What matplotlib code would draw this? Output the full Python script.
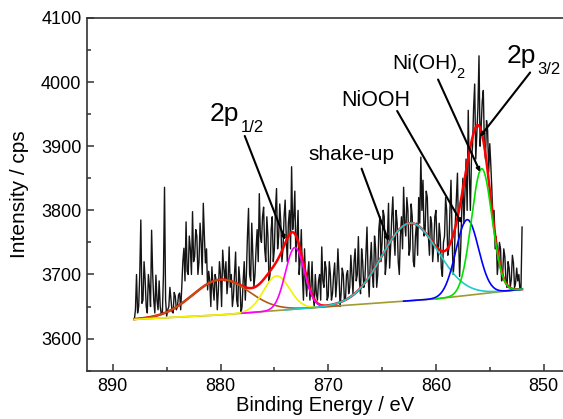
"""Ni 2p XPS spectrum with fitted components"""
import numpy as np
import matplotlib
matplotlib.use('Agg')
import matplotlib.pyplot as plt
from matplotlib.ticker import MultipleLocator

plt.rcParams['font.family'] = ['Liberation Sans', 'DejaVu Sans']

# measured spectrum, 888.0 -> 852.0 eV in 0.1 eV steps (20 points per row)
counts = [
    3630, 3645, 3700, 3640, 3650, 3700, 3785, 3655, 3660, 3720, 3692, 3650, 3640, 3700, 3681, 3650, 3769, 3700, 3660, 3640,
    3699, 3660, 3645, 3690, 3650, 3638, 3640, 3700, 3836, 3660, 3635, 3645, 3650, 3680, 3661, 3642, 3640, 3672, 3666, 3645,
    3650, 3668, 3671, 3645, 3680, 3720, 3741, 3690, 3782, 3705, 3700, 3760, 3740, 3700, 3798, 3720, 3728, 3770, 3760, 3700,
    3720, 3780, 3750, 3700, 3811, 3760, 3718, 3740, 3676, 3705, 3690, 3650, 3712, 3680, 3660, 3700, 3690, 3645, 3676, 3720,
    3700, 3650, 3738, 3710, 3690, 3720, 3670, 3690, 3743, 3680, 3700, 3650, 3666, 3700, 3735, 3660, 3650, 3712, 3690, 3640,
    3650, 3690, 3720, 3660, 3700, 3760, 3803, 3700, 3690, 3780, 3730, 3680, 3700, 3740, 3770, 3720, 3826, 3760, 3750, 3790,
    3805, 3740, 3720, 3790, 3760, 3690, 3700, 3770, 3790, 3720, 3740, 3800, 3834, 3740, 3760, 3810, 3780, 3720, 3740, 3790,
    3816, 3760, 3720, 3780, 3800, 3740, 3868, 3770, 3790, 3830, 3720, 3760, 3800, 3700, 3723, 3770, 3700, 3660, 3740, 3690,
    3666, 3700, 3720, 3660, 3680, 3720, 3666, 3650, 3700, 3670, 3660, 3690, 3700, 3660, 3743, 3690, 3680, 3720, 3710, 3660,
    3666, 3720, 3700, 3660, 3670, 3700, 3718, 3665, 3690, 3740, 3700, 3650, 3671, 3710, 3700, 3660, 3660, 3700, 3706, 3670,
    3680, 3730, 3700, 3670, 3720, 3740, 3690, 3700, 3759, 3690, 3670, 3740, 3720, 3680, 3690, 3730, 3774, 3700, 3665, 3720,
    3750, 3700, 3680, 3760, 3740, 3680, 3700, 3770, 3790, 3720, 3750, 3800, 3790, 3700, 3720, 3760, 3811, 3710, 3745, 3790,
    3821, 3760, 3730, 3800, 3780, 3720, 3700, 3760, 3790, 3740, 3836, 3780, 3760, 3820, 3800, 3730, 3740, 3810, 3790, 3720,
    3712, 3760, 3780, 3730, 3820, 3780, 3883, 3800, 3847, 3760, 3770, 3830, 3820, 3760, 3730, 3790, 3780, 3720, 3745, 3790,
    3800, 3750, 3720, 3780, 3760, 3710, 3697, 3750, 3760, 3820, 3800, 3730, 3740, 3800, 3847, 3760, 3700, 3720, 3780, 3820,
    3858, 3760, 3697, 3740, 3800, 3850, 3780, 3830, 3880, 3800, 3956, 3860, 3800, 3880, 3900, 3960, 3997, 3880, 3920, 3960,
    4041, 3900, 3930, 3970, 3987, 3900, 3880, 3940, 3925, 3860, 3904, 3870, 3830, 3780, 3800, 3740, 3759, 3700, 3720, 3750,
    3740, 3690, 3700, 3740, 3728, 3690, 3680, 3720, 3710, 3680, 3692, 3730, 3718, 3680, 3687, 3710, 3690, 3700, 3676, 3680,
    3774,
]
energy = np.linspace(888.0, 852.0, len(counts))

# background (Shirley-like) knots
bg_energy = [888, 880, 870, 860, 852]
bg_counts = [3630, 3637, 3650, 3662, 3677]

# fitted gaussian components: centre (eV), height above background, sigma
peak_names = ['sat 2p1/2', '2p1/2 a', '2p1/2 b', 'shake-up', 'NiOOH', 'Ni(OH)2']
peak_center = [880.0, 874.8, 873.1, 862.4, 857.1, 855.75]
peak_height = [55, 54, 96, 121, 118, 195]
peak_sigma = [2.6, 1.2, 0.88, 2.6, 1.05, 0.95]
peak_range = [(888, 869), (888, 871), (878, 870.5), (874, 852), (863, 852), (860, 852)]
peak_color = ['#b05a14', '#f2f200', '#ff00ff', '#1ccccc', '#0000ff', '#00e000']

fit_x = np.linspace(888.0, 852.0, 721)
bg = np.interp(fit_x, bg_energy[::-1], bg_counts[::-1])
comps = [h * np.exp(-(fit_x - c)**2 / (2 * s**2))
         for c, h, s in zip(peak_center, peak_height, peak_sigma)]
total = bg + np.sum(comps, axis=0)

fig = plt.figure(figsize=(5.63, 4.19), dpi=100)
ax = fig.add_axes([0.1545, 0.1153, 0.8455, 0.8418])

ax.plot(energy, counts, color='#141414', lw=1.0, zorder=2)
ax.plot(fit_x, total, color='#ff0000', lw=1.8, zorder=3)
ax.plot(bg_energy, bg_counts, color='#a09a30', lw=1.2, zorder=3)
for comp, (a, b), col in zip(comps, peak_range, peak_color):
    m = (fit_x <= a) & (fit_x >= b)
    ax.plot(fit_x[m], bg[m] + comp[m], color=col, lw=1.2, zorder=4)

ax.set_xlim(892.4, 848.2)
ax.set_ylim(3550, 4100)
ax.xaxis.set_major_locator(MultipleLocator(10))
ax.xaxis.set_minor_locator(MultipleLocator(5))
ax.yaxis.set_major_locator(MultipleLocator(100))
ax.yaxis.set_minor_locator(MultipleLocator(50))
ax.tick_params(which='both', direction='in', width=1.1, color='#333333',
               labelsize=13, top=False, right=False)
ax.tick_params(which='major', length=5)
ax.tick_params(which='minor', length=3)
ax.tick_params(axis='x', pad=5)
ax.tick_params(axis='y', pad=4)
for s in ['left', 'bottom', 'top']:
    ax.spines[s].set_linewidth(1.2)
    ax.spines[s].set_color('#333333')
ax.spines['right'].set_visible(False)

ax.set_xlabel('Binding Energy / eV', fontsize=14.5, labelpad=1)
ax.set_ylabel('Intensity / cps', fontsize=15, labelpad=9)

# labels: (main text, size, x, y), (subscript, size, x, y), line start, line end
labels = [
    (('2p', 19, 881.05, 3940), ('1/2', 12, 878.15, 3922), (877.75, 3916), (874.0, 3754)),
    (('shake-up', 15, 871.8, 3879), None, (866.9, 3865), (864.4, 3752)),
    (('NiOOH', 15.5, 868.75, 3962), None, (863.6, 3955), (857.6, 3780)),
    (('Ni(OH)', 15, 864.1, 4020), ('2', 10.5, 858.1, 4006), (859.8, 4004), (855.9, 3860)),
    (('2p', 19, 853.4, 4030), ('3/2', 12, 850.6, 4012), (851.25, 4015), (855.9, 3915)),
]
for main, sub, p0, p1 in labels:
    ax.text(main[2], main[3], main[0], fontsize=main[1], ha='left', va='baseline')
    if sub is not None:
        ax.text(sub[2], sub[3], sub[0], fontsize=sub[1], ha='left', va='baseline')
    ax.annotate('', xy=p1, xytext=p0,
                arrowprops=dict(arrowstyle='-|>', lw=1.5, color='k',
                                shrinkA=0, shrinkB=0, mutation_scale=5),
                zorder=6)

fig.savefig('out.png', dpi=100)
